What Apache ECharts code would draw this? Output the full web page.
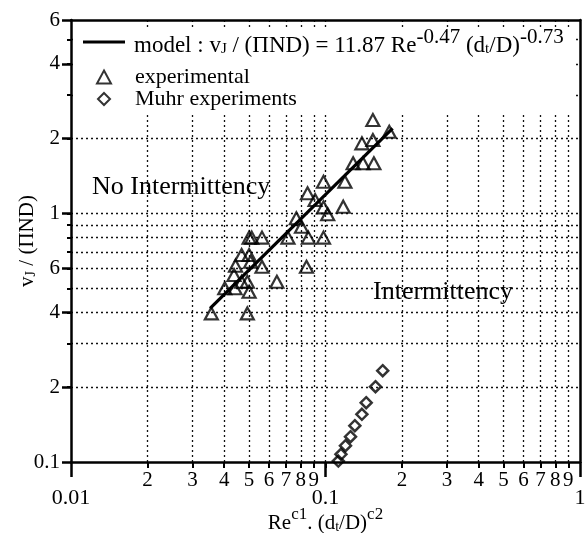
<!DOCTYPE html>
<html>
<head>
<meta charset="utf-8">
<script src="https://cdn.jsdelivr.net/npm/echarts@6/dist/echarts.min.js"></script>
<style>html,body{margin:0;padding:0;background:#fff}#c{width:585px;height:533px}</style>
</head>
<body>
<div id="c"></div>
<script>
// ---- data ----
const expX = [0.1535,0.178,0.139,0.1535,0.1284,0.1404,0.1549,0.0982,0.1192,0.0850,0.0910,0.1174,0.0982,0.102,0.0768,0.0805,0.0501,0.0513,0.0563,0.0712,0.0856,0.0982,0.0468,0.0501,0.0508,0.0443,0.0563,0.0842,0.0437,0.0468,0.0493,0.0644,0.0402,0.0441,0.0501,0.0356,0.0493];
const expY = [2.375,2.131,1.914,1.974,1.591,1.591,1.591,1.341,1.341,1.205,1.132,1.064,1.058,0.992,0.956,0.884,0.799,0.799,0.799,0.799,0.799,0.799,0.680,0.680,0.639,0.616,0.610,0.610,0.565,0.531,0.531,0.531,0.500,0.500,0.484,0.396,0.396];
const muhrX = [0.1123,0.1150,0.1198,0.1254,0.1304,0.139,0.1445,0.1572,0.1678];
const muhrY = [0.1009,0.1074,0.1163,0.1264,0.140,0.1555,0.1732,0.2009,0.2329];
const modelX = [0.0352,0.1835];
const modelY = [0.415,2.2];

const xGridTicks = [0.02,0.03,0.04,0.05,0.06,0.07,0.08,0.09,0.1,0.2,0.3,0.4,0.5,0.6,0.7,0.8,0.9];
const xLabelValues = [0.0100001,0.02,0.03,0.04,0.05,0.06,0.07,0.08,0.09,0.1,0.2,0.3,0.4,0.5,0.6,0.7,0.8,0.9,0.99999];
const xMajorTicks = [0.0100001,0.1,0.99999];
const yGridTicks = [0.2,0.3,0.4,0.5,0.6,0.7,0.8,0.9,1,2,3,4,5];
const yLabelValues = [0.1000001,0.2,0.4,0.6,1,2,4,5.99999];
const yMajorTicks = [0.1000001,0.2,0.4,0.6,1,2,4,5.99999];

const FONT = '"Liberation Serif","Times New Roman",serif';

function lead(v){
  const e = Math.floor(Math.log10(v) + 1e-6);
  return {e: e, m: Math.round(v / Math.pow(10, e))};
}
function xFmt(v){
  const r = lead(v);
  if (r.m === 1 || r.m === 10) {
    const p = r.m === 10 ? r.e + 1 : r.e;
    const s = p === -2 ? '0.01' : (p === -1 ? '0.1' : '1');
    return '{maj|' + s + '}';
  }
  return '{mn|' + r.m + '}';
}
function yFmt(v){
  if (Math.abs(v - 0.1) < 0.001) return '0.1';
  const r = lead(v);
  return String(r.m === 10 ? 1 : r.m);
}

const chart = echarts.init(document.getElementById('c'), null, {renderer:'canvas'});
const black = '#000';
const dotted = {type:[2,3], color:'#111', width:1.3};

const option = {
  animation:false,
  backgroundColor:'#fff',
  grid:{left:71, right:5, top:20, bottom:71, containLabel:false, outerBoundsMode:'none'},
  legend:[
    {data:[{name:'model', icon:'rect'}], orient:'vertical', left:83, top:27, padding:0, itemWidth:42, itemHeight:3,
     formatter:function(){return '{a|model : v}{s|J}{a| / (ΠND) = 11.87 Re}{p|-0.47}{a| (d}{s|t}{a|/D)}{p|-0.73}';},
     textStyle:{fontFamily:FONT, fontSize:23, color:black, padding:[0,0,0,4],
       rich:{a:{fontFamily:FONT,fontSize:23,lineHeight:30,verticalAlign:'bottom',color:black},
             p:{fontFamily:FONT,fontSize:21,lineHeight:22,verticalAlign:'top',color:black},
             s:{fontFamily:FONT,fontSize:15,lineHeight:18,verticalAlign:'bottom',color:black}}}},
    {data:['experimental'], orient:'vertical', left:96, top:66, padding:0, itemWidth:14, itemHeight:13,
     textStyle:{fontFamily:FONT, fontSize:22, color:black, padding:[0,0,0,19]}},
    {data:['Muhr experiments'], orient:'vertical', left:97, top:88, padding:0, itemWidth:12, itemHeight:12,
     textStyle:{fontFamily:FONT, fontSize:22, color:black, padding:[0,0,0,20]}}
  ],
  xAxis:[
    {type:'log', logBase:10, min:0.01, max:1, position:'bottom',
     name:'{a|Re}{p|c1}{a|. (d}{s|t}{a|/D)}{p|c2}', nameLocation:'middle', nameGap:44, nameMoveOverlap:false,
     nameTextStyle:{fontFamily:FONT, color:black,
       rich:{a:{fontFamily:FONT,fontSize:21,lineHeight:28,verticalAlign:'bottom',color:black},
             p:{fontFamily:FONT,fontSize:17,lineHeight:18,verticalAlign:'top',color:black},
             s:{fontFamily:FONT,fontSize:14,lineHeight:16,verticalAlign:'bottom',color:black}}},
     axisLine:{show:true, onZero:false, lineStyle:{color:black, width:2.5}},
     axisTick:{show:true, inside:false, length:6, customValues:xGridTicks, lineStyle:{color:black, width:2}},
     minorTick:{show:false},
     axisLabel:{show:true, customValues:xLabelValues, margin:8, formatter:xFmt, color:black,
       fontFamily:FONT, fontSize:21,
       rich:{mn:{fontFamily:FONT,fontSize:21,color:black},
             maj:{fontFamily:FONT,fontSize:22,color:black,padding:[17,0,0,0]}}},
     splitLine:{show:true, lineStyle:dotted}},
    {type:'log', logBase:10, min:0.01, max:1, position:'bottom',
     axisLine:{show:false}, axisTick:{show:true, inside:false, length:15, customValues:xMajorTicks, lineStyle:{color:black, width:2.5}},
     axisLabel:{show:false}, splitLine:{show:false}},
    {type:'log', logBase:10, min:0.01, max:1, position:'top',
     axisLine:{show:true, onZero:false, lineStyle:{color:black, width:2.5}},
     axisTick:{show:false}, axisLabel:{show:false}, splitLine:{show:false}}
  ],
  yAxis:[
    {type:'log', logBase:10, min:0.1, max:6, position:'left',
     name:'{a|v}{s|J}{a| / (ΠND)}', nameLocation:'middle', nameGap:33, nameRotate:90, nameMoveOverlap:false,
     nameTextStyle:{fontFamily:FONT, color:black,
       rich:{a:{fontFamily:FONT,fontSize:21,lineHeight:26,verticalAlign:'bottom',color:black},
             s:{fontFamily:FONT,fontSize:14,lineHeight:16,verticalAlign:'bottom',color:black}}},
     axisLine:{show:true, onZero:false, lineStyle:{color:black, width:2.5}},
     axisTick:{show:true, inside:false, length:4, customValues:yGridTicks, lineStyle:{color:black, width:2}},
     minorTick:{show:false},
     axisLabel:{show:true, customValues:yLabelValues, margin:11, formatter:yFmt, color:black, fontFamily:FONT, fontSize:21},
     splitLine:{show:true, lineStyle:dotted}},
    {type:'log', logBase:10, min:0.1, max:6, position:'left',
     axisLine:{show:false}, axisTick:{show:true, inside:false, length:9, customValues:yMajorTicks, lineStyle:{color:black, width:2.5}},
     axisLabel:{show:false}, splitLine:{show:false}},
    {type:'log', logBase:10, min:0.1, max:6, position:'right',
     axisLine:{show:true, onZero:false, lineStyle:{color:black, width:2.5}},
     axisTick:{show:false}, axisLabel:{show:false}, splitLine:{show:false}}
  ],
  graphic:{elements:[
    {type:'rect', shape:{x:74, y:27, width:500, height:86}, style:{fill:'#fff'}, z:1, silent:true},
    {type:'text', left:92, top:174, z:5, style:{text:'No Intermittency', font:'26px "Liberation Serif"', fill:black}},
    {type:'text', left:373, top:279, z:5, style:{text:'Intermittency', font:'26px "Liberation Serif"', fill:black}}
  ]},
  series:[
    {name:'model', type:'line', xAxisIndex:0, yAxisIndex:0, symbol:'none', z:4,
     data: modelX.map((x,i)=>[x, modelY[i]]), lineStyle:{color:black, width:3.2}, itemStyle:{color:black}},
    {name:'experimental', type:'scatter', xAxisIndex:0, yAxisIndex:0, symbol:'triangle', symbolSize:[13,12], z:3,
     data: expX.map((x,i)=>[x, expY[i]]),
     itemStyle:{color:'rgba(255,255,255,0)', borderColor:black, borderWidth:2.2}},
    {name:'Muhr experiments', type:'scatter', xAxisIndex:0, yAxisIndex:0, symbol:'diamond', symbolSize:[11,11], z:3,
     data: muhrX.map((x,i)=>[x, muhrY[i]]),
     itemStyle:{color:'rgba(255,255,255,0)', borderColor:black, borderWidth:2.5}}
  ]
};
chart.setOption(option);
</script>
</body>
</html>
